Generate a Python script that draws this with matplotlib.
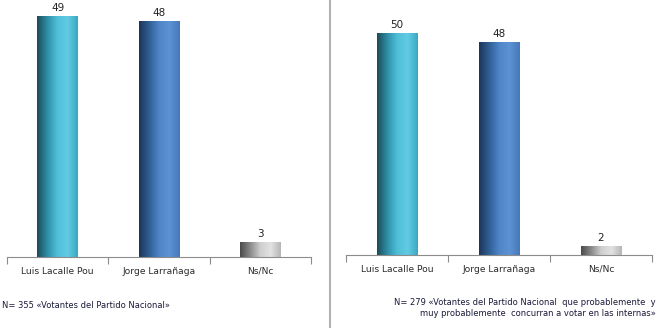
import numpy as np
import matplotlib
matplotlib.use("Agg")
from matplotlib import pyplot as plt
from matplotlib.colors import LinearSegmentedColormap
from matplotlib.lines import Line2D

categories = ["Luis Lacalle Pou", "Jorge Larrañaga", "Ns/Nc"]
left_values = [49, 48, 3]
right_values = [50, 48, 2]
left_note = "N= 355 «Votantes del Partido Nacional»"
right_note = ("N= 279 «Votantes del Partido Nacional  que probablemente  y\n"
              "muy probablemente  concurran a votar en las internas»")

bar_cmaps = [
    LinearSegmentedColormap.from_list("teal", ["#1c4a58", "#2f8ea6", "#4fbfd9", "#62cbe3", "#3aa8c2"]),
    LinearSegmentedColormap.from_list("blue", ["#1d3559", "#2f5f95", "#4f86c8", "#5c93d4", "#4678b8"]),
    LinearSegmentedColormap.from_list("gray", ["#4a4a4a", "#8a8a8a", "#cfcfcf", "#e2e2e2", "#b5b5b5"]),
]

plt.rcParams['font.family'] = ['DejaVu Sans']

fig = plt.figure(figsize=(6.62, 3.28), dpi=100)
W, H = 662.0, 328.0


def draw_panel(ax, values, ymax):
	x = np.arange(len(values))
	bars = ax.bar(x, values, width=0.4, color="none", edgecolor="none")
	grad = np.linspace(0, 1, 256).reshape(1, -1)
	for bar, cmap, v in zip(bars, bar_cmaps, values):
		x0 = bar.get_x()
		x1 = x0 + bar.get_width()
		im = ax.imshow(grad, cmap=cmap, aspect="auto", extent=(x0, x1, 0, v), zorder=2)
		im.set_clip_path(bar)
		ax.text(bar.get_x() + bar.get_width() / 2, v + ymax * 0.012, str(v),
			ha="center", va="bottom", fontsize=7.5, color="#222222")
	ax.set_xlim(-0.5, len(values) - 0.5)
	ax.set_ylim(0, ymax)
	for side in ["left", "right", "top"]:
		ax.spines[side].set_visible(False)
	ax.spines["bottom"].set_color("#8c8c8c")
	ax.spines["bottom"].set_linewidth(0.8)
	ax.set_yticks([])
	ax.set_xticks(x)
	ax.set_xticklabels(categories, fontsize=6.6, color="#2a2a2a")
	ax.tick_params(axis="x", which="major", length=0, pad=7)
	ax.set_xticks(np.arange(len(values) + 1) - 0.5, minor=True)
	ax.tick_params(axis="x", which="minor", length=5, color="#8c8c8c", width=0.8)


ax1 = fig.add_axes([7 / W, 1 - 257 / H, 304 / W, 256 / H])
draw_panel(ax1, left_values, 52)

ax2 = fig.add_axes([346 / W, 1 - 255 / H, 306 / W, 253 / H])
draw_panel(ax2, right_values, 57)

fig.add_artist(Line2D([329.5 / W, 329.5 / W], [0, 1], color="#b2b2b2", linewidth=1.5))

fig.text(2 / W, 1 - 305 / H, left_note, fontsize=6, color="#1a1a3a", ha="left", va="center")
fig.text(656 / W, 1 - 308 / H, right_note, fontsize=6, color="#1a1a3a", ha="right", va="center",
	multialignment="right", linespacing=1.3)

fig.savefig("out.png", dpi=100)
